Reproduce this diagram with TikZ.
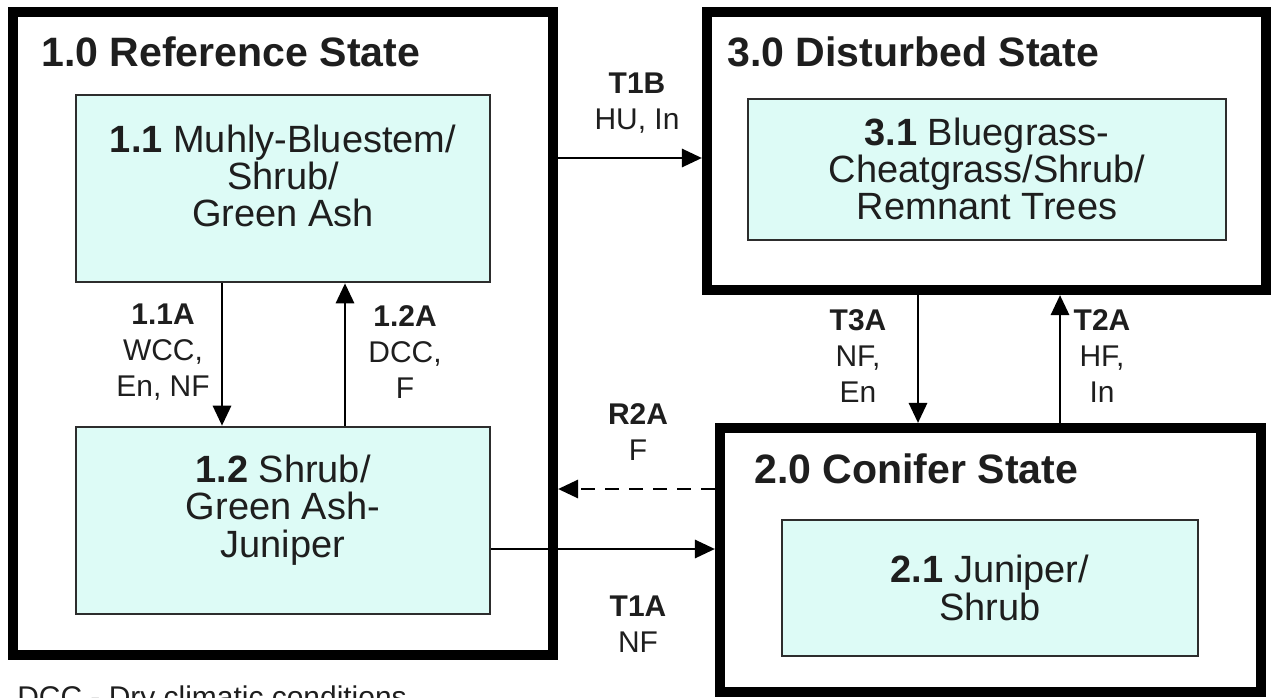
\documentclass[tikz,border=0pt]{standalone}
\usepackage{fontspec}
\setmainfont{Liberation Sans}
\usetikzlibrary{arrows.meta}
\definecolor{stfill}{RGB}{221,251,246}
\definecolor{stline}{RGB}{45,45,45}
\definecolor{txt}{RGB}{30,30,30}

\begin{document}
\begin{tikzpicture}[x=0.025cm,y=-0.025cm,
	state/.style={draw=black,line width=7.1pt,inner sep=0pt},
	comm/.style={draw=stline,fill=stfill,line width=1.8pt,inner sep=0pt},
	commtext/.style={align=center,inner sep=0pt,text=txt,font=\fontsize{27}{26.5}\selectfont},
	title/.style={anchor=base west,inner sep=0pt,text=txt,font=\fontsize{29.2}{34}\selectfont\bfseries},
	lbl/.style={align=center,inner sep=0pt,text=txt,font=\fontsize{21.3}{25.6}\selectfont},
	arr/.style={line width=2.1pt,-{Triangle[length=0.5cm,width=0.45cm]}}]
	\useasboundingbox (0,0) rectangle (1273,697);
	\node [state,minimum width=13.5cm,minimum height=16.075cm] (ref) at (283,333.5) {};
	\node [state,minimum width=13.975cm,minimum height=6.95cm] (dist) at (986.5,151) {};
	\node [state,minimum width=13.525cm,minimum height=6.6cm] (con) at (990.5,560) {};
	\node [title] (reft) at (41,66) {1.0 Reference State};
	\node [title] (distt) at (727,66) {3.0 Disturbed State};
	\node [title] (cont) at (754,483) {2.0 Conifer State};
	% community phases
	\node [comm,minimum width=10.35cm,minimum height=4.675cm] (b11) at (283,188.5) {};
	\node [comm,minimum width=10.35cm,minimum height=4.675cm] (b12) at (283,520.5) {};
	\node [comm,minimum width=11.95cm,minimum height=3.525cm] (b31) at (987,169.5) {};
	\node [comm,minimum width=10.4cm,minimum height=3.4cm] (b21) at (990,588) {};
	\node [commtext] (b11t) at (283,176) {\textbf{1.1} Muhly-Bluestem/\\Shrub/\\Green Ash};
	\node [commtext] (b12t) at (283,510) {\textbf{1.2} Shrub/\\Green Ash-\\Juniper};
	\node [commtext] (b31t) at (987,169) {\textbf{3.1} Bluegrass-\\Cheatgrass/Shrub/\\Remnant Trees};
	\node [commtext] (b21t) at (990,588) {\textbf{2.1} Juniper/\\Shrub};
	% transitions
	\draw [arr] (b11.south -| 222,0) -- (b12.north -| 222,0);
	\draw [arr] (b12.north -| 345,0) -- (b11.south -| 345,0);
	\draw [arr] (ref.east |- 0,158) -- (dist.west |- 0,158);
	\draw [arr] (dist.south -| 918,0) -- (con.north -| 918,0);
	\draw [arr] (con.north -| 1060,0) -- (dist.south -| 1060,0);
	\draw [arr,dash pattern=on 0.35cm off 0.25cm] (con.west |- 0,489) -- (ref.east |- 0,489);
	\draw [arr] (b12.east |- 0,549) -- (con.west |- 0,549);
	\node [lbl] (l11a) at (163,352) {\textbf{1.1A}\\WCC,\\En, NF};
	\node [lbl] (l12a) at (405,352) {\textbf{1.2A}\\DCC,\\F};
	\node [lbl] (lt1b) at (637,103) {\textbf{T1B}\\HU, In};
	\node [lbl] (lt3a) at (858,356) {\textbf{T3A}\\NF,\\En};
	\node [lbl] (lt2a) at (1102,356) {\textbf{T2A}\\HF,\\In};
	\node [lbl] (lr2a) at (638,432) {\textbf{R2A}\\F};
	\node [lbl] (lt1a) at (638,624) {\textbf{T1A}\\NF};
	\node [lbl,anchor=base west] (note) at (17,707) {DCC - Dry climatic conditions};
\end{tikzpicture}
\end{document}
